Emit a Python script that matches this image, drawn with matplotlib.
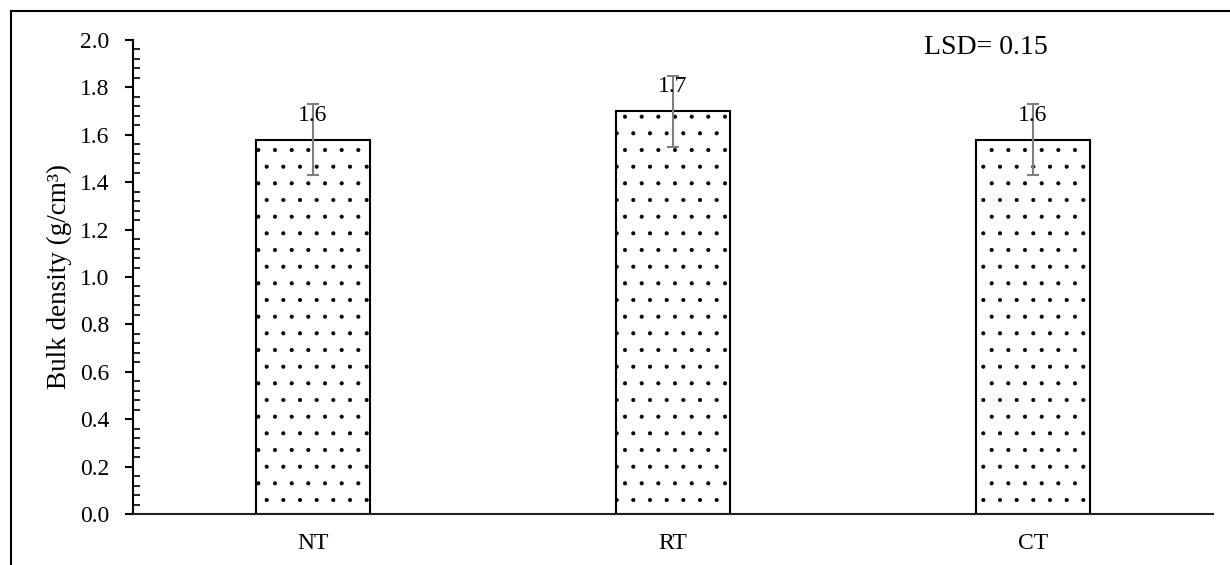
import matplotlib.pyplot as plt
from matplotlib.lines import Line2D
from matplotlib.ticker import MultipleLocator
import numpy as np

plt.rcParams['font.family'] = ['Liberation Serif', 'DejaVu Serif']
plt.rcParams['hatch.linewidth'] = 0.5

treatments = ["NT", "RT", "CT"]
bulk_density = [1.58, 1.70, 1.58]
errors = [0.15, 0.15, 0.15]
lsd = 0.15


def plot_bulk_density():
    fig = plt.figure(figsize=(12.3, 5.65), dpi=100)
    ax = fig.add_axes([0.1081, 0.0903, 0.878, 0.8389])

    x = np.arange(len(treatments))
    ax.bar(x, bulk_density, 0.315, color="white", edgecolor="black",
           linewidth=1.5, hatch=".", zorder=2)
    ax.errorbar(x, bulk_density, yerr=errors, fmt="none", ecolor="#7f7f7f",
                elinewidth=1.5, capsize=4.5, capthick=1.5, zorder=3)

    for i, v in enumerate(bulk_density):
        ax.annotate(f"{v:.1f}", (x[i], v), xytext=(0, 10), textcoords="offset points",
                    ha="center", va="bottom", fontsize=17, zorder=4)

    ax.set_xlim(-0.5, 2.5)
    ax.set_ylim(0, 2.0)
    ax.set_xticks(x, treatments)
    ax.yaxis.set_major_locator(MultipleLocator(0.2))
    ax.yaxis.set_minor_locator(MultipleLocator(0.04))
    ax.yaxis.set_major_formatter(plt.FormatStrFormatter("%.1f"))
    ax.tick_params(axis="y", which="major", direction="out", length=6, width=1.5,
                   labelsize=17, pad=11)
    ax.tick_params(axis="y", which="minor", direction="in", length=5, width=1.2)
    ax.tick_params(axis="x", length=0, labelsize=17, pad=14)

    for side in ["top", "right"]:
        ax.spines[side].set_visible(False)
    ax.spines["left"].set_linewidth(1.5)
    ax.spines["bottom"].set_linewidth(1.5)
    ax.spines["bottom"].set_color("#222222")

    ax.set_ylabel("Bulk density (g/cm³)", fontsize=19.5, labelpad=6)

    ax.text(0.79, 0.985, f"LSD= {lsd}", transform=ax.transAxes, ha="center",
            va="center", fontsize=20)

    # outer frame on the top and left edges
    fig.add_artist(Line2D([11 / 1230, 1], [1 - 11 / 565, 1 - 11 / 565],
                          transform=fig.transFigure, color="black", linewidth=1.5))
    fig.add_artist(Line2D([11 / 1230, 11 / 1230], [0, 1 - 11 / 565],
                          transform=fig.transFigure, color="black", linewidth=1.5))

    fig.savefig("out.png", dpi=100)
    plt.close(fig)


if __name__ == "__main__":
    plot_bulk_density()
